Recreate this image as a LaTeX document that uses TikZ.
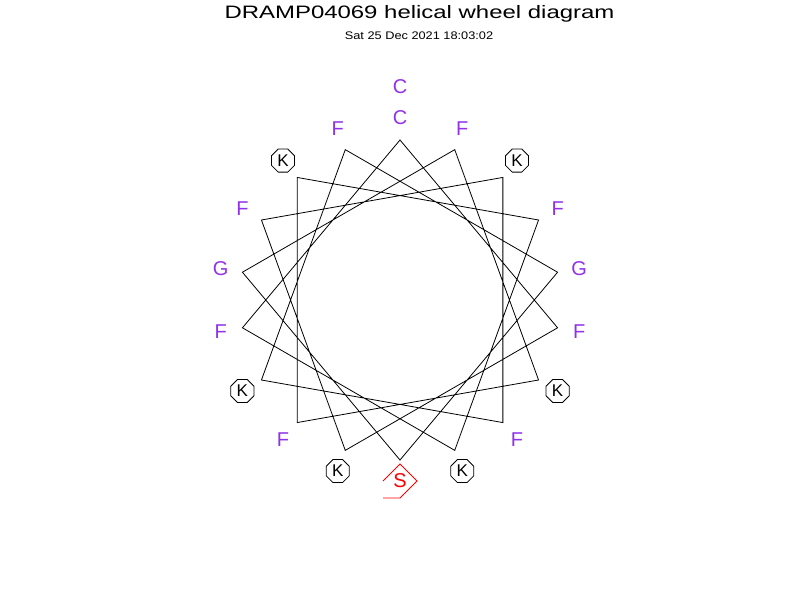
\documentclass[tikz,border=0pt]{standalone}
\usepackage{fontspec}
\setmainfont{Liberation Sans}
\usetikzlibrary{shapes.geometric}
\definecolor{respurple}{RGB}{145,50,235}
\definecolor{resred}{RGB}{255,0,0}
\tikzset{
  wheel/.style={draw=black, line width=0.8pt, line join=miter},
  hres/.style={text=respurple, font=\fontsize{20}{20}\selectfont, inner sep=0pt, anchor=center},
  kres/.style={draw=black, line width=0.8pt, regular polygon, regular polygon sides=8,
     minimum size=25pt, inner sep=0pt, font=\fontsize{17}{17}\selectfont, text=black},
  sres/.style={text=resred, font=\fontsize{20}{20}\selectfont, inner sep=0pt},
  sshape/.style={draw=resred, line width=0.8pt},
  titletext/.style={font=\fontsize{18}{18}\selectfont, inner sep=0pt},
  subtext/.style={font=\fontsize{11}{11}\selectfont, inner sep=0pt}
}
\begin{document}
\begin{tikzpicture}[x=1pt, y=-1pt]
\path[use as bounding box, fill=white] (0,0) rectangle (800,600);
% title
\node[titletext] (title) at (419.5,14) {\scalebox{1.33}[1]{DRAMP04069 helical wheel diagram}};
\node[subtext] (date) at (419,36) {\scalebox{1.16}[1]{Sat 25 Dec 2021 18:03:02}};
% vertices
\foreach \k in {0,...,17} {
  \coordinate (v\k) at ({400+160*sin(20*\k)}, {300-160*cos(20*\k)});
}
\draw[wheel] (v0) -- (v5) -- (v10) -- (v15) -- (v2) -- (v7) -- (v12) -- (v17) -- (v4) -- (v9)
  -- (v14) -- (v1) -- (v6) -- (v11) -- (v16) -- (v3) -- (v8) -- (v13) -- cycle;
% residue labels
\foreach \k/\r in {0/C,1/F,3/F,4/G,5/F,7/F,11/F,13/F,14/G,15/F,17/F} {
  \node[hres] (r\k) at ({400+182*sin(20*\k)}, {300-182*cos(20*\k)}) {\r};
}
\node[hres] (r18) at (400,87) {C};
\foreach \k in {2,6,8,10,12,16} {
  \node[kres] (r\k) at ({400+182*sin(20*\k)}, {300-182*cos(20*\k)}) {K};
}
\node[sres] (r9) at (400,481) {S};
\draw[sshape] ([xshift=-17pt]r9.center) -- ([yshift=17pt]r9.center) -- ([xshift=17pt]r9.center)
  -- ([yshift=-17pt]r9.center) -- ([xshift=-17pt,yshift=-17pt]r9.center);
\end{tikzpicture}
\end{document}
